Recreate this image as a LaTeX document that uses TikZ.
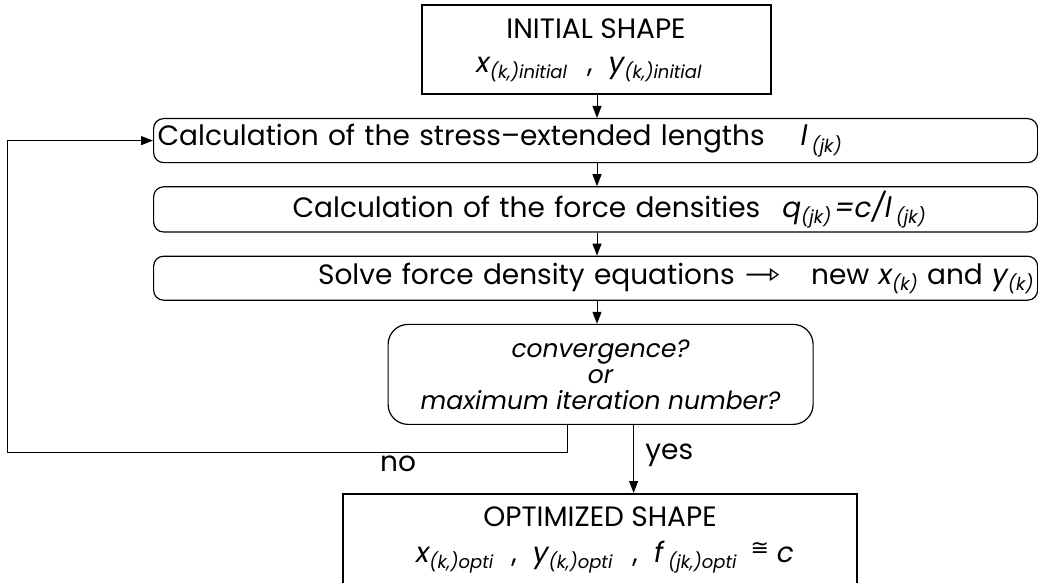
\documentclass[tikz,border=0pt]{standalone}
\usepackage{fontspec}
\setmainfont{Poppins}
\newfontfamily\symfont{DejaVu Sans}
\usetikzlibrary{arrows.meta, positioning, calc}

\newcommand\mainsz{\fontsize{28}{32}\selectfont}
\newcommand\sbs[1]{\raisebox{-0.4ex}{\fontsize{18}{18}\selectfont\itshape #1}}

\begin{document}
\begin{tikzpicture}[x=1pt, y=-1pt, node distance=23pt,
  shapebox/.style={draw, line width=2pt, minimum width=349pt, minimum height=89pt,
                   align=center, font=\mainsz},
  stepbox/.style={draw, line width=1.2pt, rounded corners=10pt, minimum height=44pt,
                  text width=876pt, inner sep=4pt, font=\mainsz},
  testbox/.style={draw, line width=1.2pt, rounded corners=20pt, minimum width=425pt,
                  minimum height=100pt, align=center, font=\fontsize{25}{26}\selectfont\itshape},
  flow/.style={line width=1pt, -{Triangle[length=12pt, width=9pt]}}]
  \clip (0,0) rectangle (1038,583);
  % initial and loop steps
  \node[shapebox] (init) at (596,50)
    {INITIAL SHAPE\\[2pt]
     {\itshape x\sbs{(k,)initial}}\hspace{20pt},\hspace{16pt}{\itshape y\sbs{(k,)initial}}\hspace{14pt}\null};
  \node[stepbox, align=left, anchor=north west] (calc1) at (153,118)
    {Calculation of the stress--extended lengths\hspace{36pt}{\itshape l}\hspace{4pt}\sbs{(jk)}};
  \node[stepbox, align=left, below=of calc1] (calc2)
    {\hspace*{135pt}Calculation of the force densities\hspace{22pt}{\itshape q\sbs{(jk)}\hspace{3pt}=c/l\hspace{4pt}\sbs{(jk)}}};
  \node[stepbox, align=right, below=of calc2] (calc3)
    {Solve force density equations\hspace{10pt}\scalebox{1.45}[1]{\symfont\fontsize{30}{30}\selectfont ⇾}\hspace{30pt}new {\itshape x\sbs{(k)}} and {\itshape y\sbs{(k)}}\hspace*{4pt}};
  \node[testbox, below=of calc3, xshift=5pt] (test)
    {convergence?\\or\\maximum iteration number?};
  \node[shapebox, minimum width=514pt, minimum height=92pt] (opti) at (600,540)
    {OPTIMIZED SHAPE\\[4pt]
     \hspace{10pt}{\itshape x\sbs{(k,)opti}}\hspace{18pt},\hspace{16pt}{\itshape y\sbs{(k,)opti}}\hspace{20pt},\hspace{16pt}{\itshape f\hspace{5pt}\sbs{(jk,)opti}}\hspace{14pt}\raisebox{0.45ex}{\symfont\fontsize{22}{22}\selectfont ≅}\hspace{8pt}{\itshape c}};
  % connectors
  \coordinate (nofoot) at ($(test.south)+(-33,0)$);
  \coordinate (yesfoot) at ($(test.south)+(33,0)$);
  \coordinate (loopcorner) at (7,452);
  \draw[flow] (init.south -| 597,0) -- (calc1.north -| 597,0);
  \draw[flow] (calc1.south -| 597,0) -- (calc2.north -| 597,0);
  \draw[flow] (calc2.south -| 597,0) -- (calc3.north -| 597,0);
  \draw[flow] (calc3.south -| 597,0) -- (test.north -| 597,0);
  \draw[flow] (yesfoot) -- (yesfoot |- opti.north)
    node[pos=0.45, right=8pt, font=\mainsz] (yes) {yes};
  \draw[flow] (nofoot) |- (loopcorner) |- (calc1.west);
  \node[font=\mainsz] (no) at (398,464) {no};
\end{tikzpicture}
\end{document}
